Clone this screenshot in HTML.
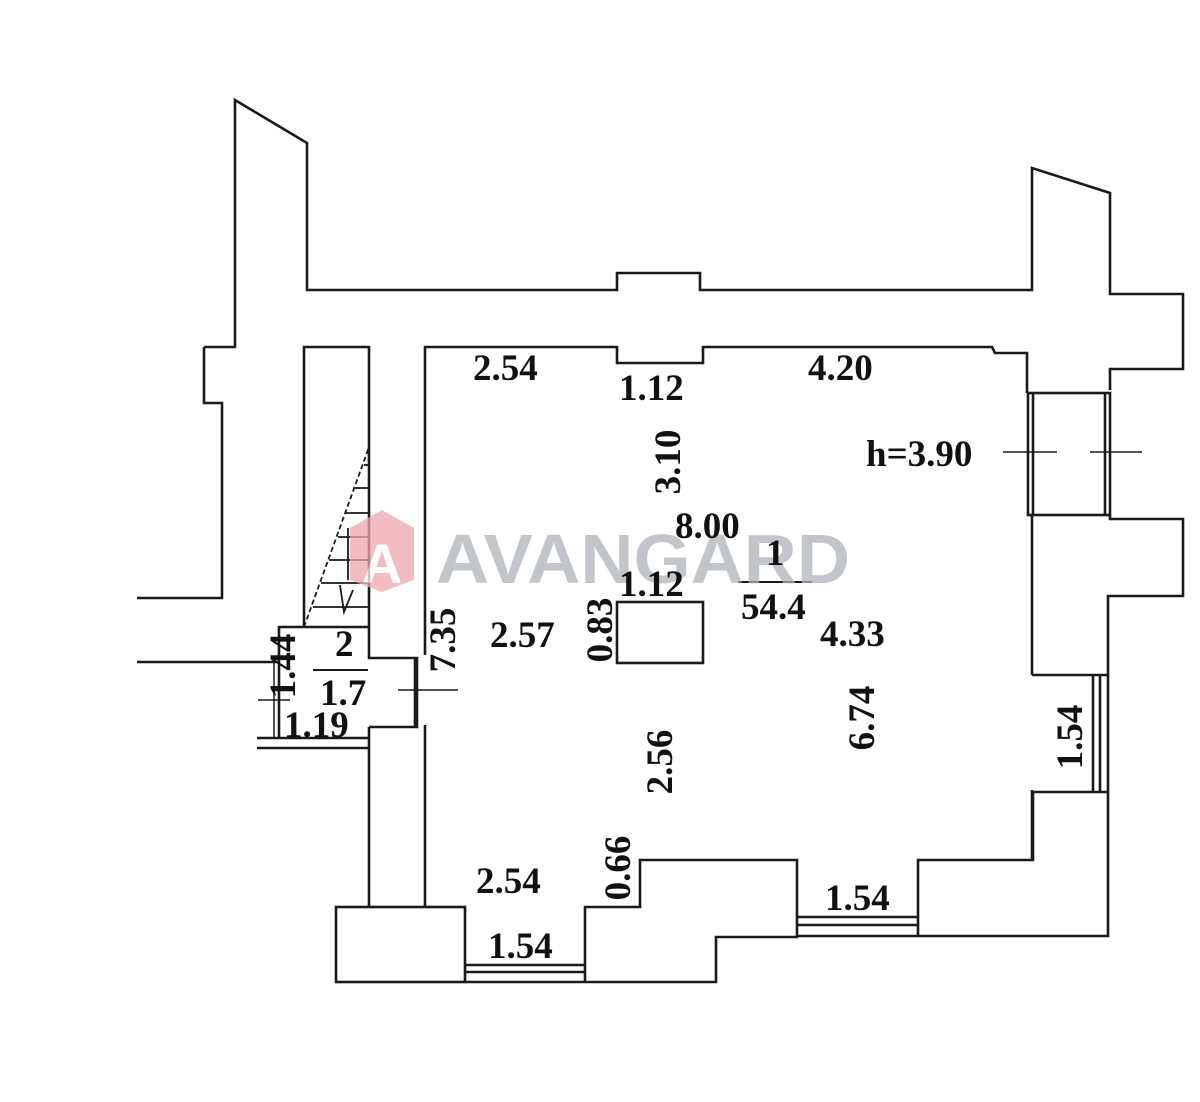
<!DOCTYPE html>
<html><head><meta charset="utf-8"><style>
html,body{margin:0;padding:0;background:#fff;}
svg{display:block;}
text{font-family:"Liberation Serif",serif;font-weight:bold;font-size:37px;fill:#111;}
</style></head><body>
<svg width="1200" height="1102" viewBox="0 0 1200 1102" xmlns="http://www.w3.org/2000/svg">
<g fill="none" stroke="#1a1a1a" stroke-width="2.6" stroke-linejoin="miter">
<polyline points="204,347 235,347 235,100 307,143 307,290 617,290 617,273 700,273 700,290 1032,290 1032,168 1110,193 1110,294 1183,294 1183,369 1110,369 1110,390"/>
<polyline points="1110,515 1110,519 1183,519 1183,596 1108,596 1108,792 1033,792 1033,860 918,860 918,936 1108,936 1108,792"/>
<polyline points="204,347 204,403 222,403 222,598 137,598"/>
<polyline points="425,655 425,347 617,347 617,363 703,363 703,347 992,347 995,353 1027,353 1027,393"/>
<rect x="1028" y="393" width="82" height="122"/>
<line x1="1033" y1="393" x2="1033" y2="515"/>
<line x1="1105" y1="393" x2="1105" y2="515"/>
<line x1="1032" y1="515" x2="1032" y2="675"/>
<line x1="1032" y1="675" x2="1108" y2="675"/>
<line x1="1093" y1="675" x2="1093" y2="792"/>
<line x1="1100" y1="675" x2="1100" y2="792"/>
<line x1="1032" y1="790" x2="1032" y2="860"/>
<line x1="1003" y1="452" x2="1057" y2="452" stroke-width="1.6"/>
<line x1="1090" y1="452" x2="1142" y2="452" stroke-width="1.6"/>
<polyline points="425,725 425,907"/>
<rect x="336" y="907" width="129" height="75"/>
<line x1="369" y1="907" x2="369" y2="727"/>
<line x1="465" y1="965" x2="585" y2="965"/>
<line x1="465" y1="972" x2="585" y2="972"/>
<polyline points="465,982 585,982 585,907 640,907 640,860 797,860 797,937 716,937 716,982 585,982"/>
<line x1="797" y1="917" x2="918" y2="917"/>
<line x1="797" y1="925" x2="918" y2="925"/>
<line x1="797" y1="936" x2="918" y2="936"/>
<polyline points="304,627 304,347 369,347 369,658 417,658 417,727 369,727"/>
<line x1="415" y1="658" x2="415" y2="727"/>
<line x1="398" y1="690" x2="458" y2="690" stroke-width="1.6"/>
<polyline points="369,627 279,627 279,738"/>
<line x1="137" y1="662" x2="279" y2="662"/>
<line x1="274" y1="662" x2="274" y2="738" stroke-width="1.5"/>
<line x1="257" y1="738" x2="369" y2="738"/>
<line x1="257" y1="748" x2="369" y2="748"/>
<line x1="258" y1="700" x2="290" y2="700" stroke-width="1.6"/>
<line x1="313" y1="670" x2="368" y2="670" stroke-width="2"/>
<line x1="304" y1="627" x2="369" y2="447" stroke-dasharray="5,3" stroke-width="1.8"/>
<g stroke-width="1.8">
<line x1="364" y1="465" x2="369" y2="465"/>
<line x1="355" y1="488" x2="369" y2="488"/>
<line x1="346" y1="513" x2="369" y2="513"/>
<line x1="338" y1="537" x2="369" y2="537"/>
<line x1="329" y1="560" x2="369" y2="560"/>
<line x1="321" y1="583" x2="369" y2="583"/>
<line x1="313" y1="607" x2="369" y2="607"/>
<line x1="348" y1="528" x2="348" y2="580"/>
<polyline points="340,585 344,612 353,590"/>
</g>
<rect x="617" y="602" width="86" height="61"/>
<line x1="738" y1="582" x2="812" y2="582" stroke-width="2"/>
</g>
<g opacity="0.75">
<polygon points="382,510 414,528 414,580 382,592 350,580 350,528" fill="#eda8b0"/>
<text x="382" y="583" text-anchor="middle" style="font-family:'Liberation Sans',sans-serif;font-size:56px;fill:#fff">A</text>
<text x="436" y="583" textLength="414" lengthAdjust="spacingAndGlyphs" style="font-family:'Liberation Sans',sans-serif;font-size:70px;fill:#aeb4ba">AVANGARD</text>
</g>
<text x="473" y="380">2.54</text>
<text x="619" y="400">1.12</text>
<text x="808" y="380">4.20</text>
<text x="866" y="466">h=3.90</text>
<text x="675" y="538">8.00</text>
<text x="766" y="565">1</text>
<text x="741" y="619">54.4</text>
<text x="619" y="596">1.12</text>
<text x="490" y="647">2.57</text>
<text x="820" y="646">4.33</text>
<text x="476" y="893">2.54</text>
<text x="488" y="958">1.54</text>
<text x="825" y="910">1.54</text>
<text x="335" y="656">2</text>
<text x="320" y="705">1.7</text>
<text x="284" y="737">1.19</text>
<text transform="translate(680,462) rotate(-90)" text-anchor="middle">3.10</text>
<text transform="translate(612,630) rotate(-90)" text-anchor="middle">0.83</text>
<text transform="translate(455,640) rotate(-90)" text-anchor="middle">7.35</text>
<text transform="translate(874,718) rotate(-90)" text-anchor="middle">6.74</text>
<text transform="translate(672,762) rotate(-90)" text-anchor="middle">2.56</text>
<text transform="translate(1082,737) rotate(-90)" text-anchor="middle">1.54</text>
<text transform="translate(630,868) rotate(-90)" text-anchor="middle">0.66</text>
<text transform="translate(295,666) rotate(-90)" text-anchor="middle">1.44</text>
</svg>
</body></html>
